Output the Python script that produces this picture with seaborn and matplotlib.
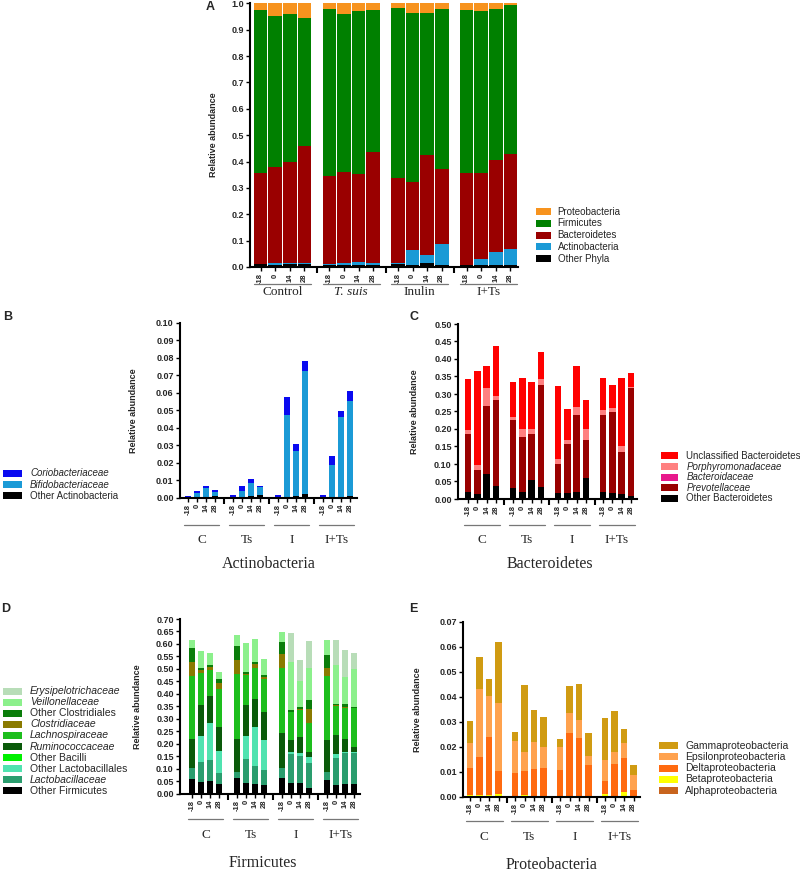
import numpy as np
import pandas as pd
import matplotlib
matplotlib.use("Agg")
import matplotlib.pyplot as plt
import seaborn as sns
from matplotlib.patches import Rectangle

sns.set_theme(style="ticks")
plt.rcParams['font.family'] = ['Liberation Sans', 'DejaVu Sans']
SERIF = ['Liberation Serif', 'DejaVu Serif']

# ---------------- data ----------------
days = ["-18", "0", "14", "28"]
groups_A = ["Control", "T. suis", "Inulin", "I+Ts"]
groups_sub = ["C", "Ts", "I", "I+Ts"]

# Panel A (phyla), bottom -> top
a_other_phyla = [0.012, 0.008, 0.010, 0.010, 0.008, 0.008, 0.008, 0.008, 0.013, 0.007, 0.014, 0.008, 0.008, 0.007, 0.006, 0.006]
a_actinobacteria = [0.001, 0.006, 0.007, 0.006, 0.002, 0.007, 0.011, 0.008, 0.001, 0.058, 0.031, 0.078, 0.001, 0.025, 0.052, 0.062]
a_bacteroidetes = [0.345, 0.366, 0.380, 0.441, 0.335, 0.345, 0.334, 0.419, 0.322, 0.258, 0.381, 0.284, 0.349, 0.326, 0.347, 0.362]
a_firmicutes = [0.617, 0.570, 0.561, 0.487, 0.633, 0.601, 0.618, 0.539, 0.646, 0.639, 0.536, 0.610, 0.617, 0.614, 0.574, 0.562]
a_proteobacteria = [0.025, 0.050, 0.042, 0.056, 0.022, 0.039, 0.029, 0.026, 0.018, 0.038, 0.038, 0.020, 0.025, 0.028, 0.021, 0.008]

# Panel B (Actinobacteria)
b_other = [0.0002, 0.0005, 0.0005, 0.0010, 0.0002, 0.0005, 0.0010, 0.0017, 0.0002, 0.0005, 0.0008, 0.0019, 0.0002, 0.0005, 0.0005, 0.0012]
b_bifido = [0.0002, 0.0022, 0.0050, 0.0022, 0.0003, 0.0033, 0.0074, 0.0042, 0.0003, 0.0466, 0.0258, 0.0709, 0.0003, 0.0185, 0.0455, 0.0539]
b_corio = [0.0006, 0.0009, 0.0011, 0.0010, 0.0008, 0.0027, 0.0021, 0.0009, 0.0008, 0.0107, 0.0040, 0.0052, 0.0008, 0.0051, 0.0038, 0.0061]

# Panel C (Bacteroidetes)
c_other = [0.021, 0.013, 0.072, 0.036, 0.032, 0.021, 0.055, 0.035, 0.017, 0.018, 0.021, 0.059, 0.021, 0.018, 0.015, 0.008]
c_prevo = [0.166, 0.070, 0.195, 0.246, 0.193, 0.157, 0.131, 0.292, 0.083, 0.140, 0.219, 0.110, 0.218, 0.230, 0.119, 0.309]
c_bacteroidaceae = [0.0] * 16
c_porph = [0.010, 0.015, 0.050, 0.013, 0.008, 0.023, 0.015, 0.017, 0.015, 0.011, 0.022, 0.030, 0.014, 0.013, 0.018, 0.003]
c_unclass = [0.146, 0.268, 0.064, 0.143, 0.101, 0.146, 0.132, 0.077, 0.207, 0.088, 0.117, 0.085, 0.094, 0.064, 0.195, 0.041]

# Panel D (Firmicutes)
d_other = [0.059, 0.048, 0.051, 0.039, 0.061, 0.044, 0.039, 0.035, 0.064, 0.044, 0.041, 0.023, 0.053, 0.033, 0.040, 0.040]
d_lacto = [0.043, 0.078, 0.085, 0.044, 0.024, 0.095, 0.072, 0.060, 0.039, 0.115, 0.110, 0.101, 0.034, 0.109, 0.122, 0.123]
d_oth_lactobacillales = [0.000, 0.105, 0.147, 0.087, 0.000, 0.092, 0.157, 0.121, 0.000, 0.008, 0.013, 0.022, 0.000, 0.017, 0.005, 0.004]
d_oth_bacilli = [0.0] * 16
d_rumino = [0.116, 0.124, 0.108, 0.097, 0.135, 0.123, 0.110, 0.111, 0.139, 0.047, 0.064, 0.021, 0.128, 0.075, 0.051, 0.021]
d_lachno = [0.254, 0.130, 0.105, 0.151, 0.260, 0.122, 0.126, 0.131, 0.263, 0.112, 0.107, 0.115, 0.257, 0.117, 0.124, 0.155]
d_clostri = [0.054, 0.011, 0.010, 0.024, 0.054, 0.005, 0.014, 0.010, 0.055, 0.003, 0.004, 0.056, 0.030, 0.003, 0.007, 0.000]
d_oth_clostridiales = [0.058, 0.006, 0.010, 0.016, 0.058, 0.005, 0.010, 0.009, 0.046, 0.006, 0.010, 0.037, 0.054, 0.005, 0.010, 0.003]
d_veill = [0.032, 0.071, 0.046, 0.031, 0.044, 0.116, 0.090, 0.061, 0.041, 0.194, 0.103, 0.130, 0.061, 0.157, 0.110, 0.152]
d_erysi = [0.001, 0.000, 0.000, 0.000, 0.000, 0.000, 0.000, 0.000, 0.000, 0.114, 0.084, 0.107, 0.000, 0.100, 0.107, 0.066]

# Panel E (Proteobacteria)
e_alpha = [0.0] * 16
e_beta = [0.0008, 0.0008, 0.0008, 0.0012, 0.0002, 0.0005, 0.0002, 0.0002, 0.0002, 0.0003, 0.0003, 0.0003, 0.0010, 0.0002, 0.0020, 0.0002]
e_delta = [0.0108, 0.0152, 0.0232, 0.0092, 0.0094, 0.0099, 0.0109, 0.0114, 0.0106, 0.0253, 0.0232, 0.0124, 0.0053, 0.0127, 0.0136, 0.0025]
e_epsilon = [0.0097, 0.0269, 0.0163, 0.0269, 0.0127, 0.0076, 0.0108, 0.0081, 0.0092, 0.0080, 0.0072, 0.0037, 0.0085, 0.0051, 0.0059, 0.0060]
e_gamma = [0.0088, 0.0128, 0.0066, 0.0247, 0.0034, 0.0267, 0.0128, 0.0123, 0.0031, 0.0108, 0.0142, 0.0089, 0.0168, 0.0164, 0.0057, 0.0040]

# ---------------- layout helpers ----------------
W, H = 800, 871
fig = plt.figure(figsize=(W / 100, H / 100), dpi=100)


def add_ax(l, t, r, b):
    return fig.add_axes([l / W, 1 - b / H, (r - l) / W, (b - t) / H])


def stacked(ax, layers, colors, gap, width):
    pos = [g * gap + i for g in range(4) for i in range(4)]
    cum = np.zeros(16)
    tops = []
    for vals in layers:
        cum = cum + np.asarray(vals, dtype=float)
        tops.append(cum.copy())
    for top, col in reversed(list(zip(tops, colors))):
        df = pd.DataFrame({"pos": pos, "top": top})
        sns.barplot(data=df, x="pos", y="top", native_scale=True, color=col,
                    saturation=1, width=width, errorbar=None, linewidth=0,
                    ax=ax)
    return pos


def style(ax, pos, gap, xlim, ylim, yticks, fmt, ylab_x, names, under_px,
          label_px, gfs, title=None, title_px=None, title_x=None, tfs=10.5,
          italic=None):
    ax.set_xlim(*xlim)
    ax.set_ylim(*ylim)
    ax.set_xlabel("")
    ax.set_ylabel("Relative abundance", fontsize=6.5, fontweight="bold")
    ax.yaxis.set_label_coords(ylab_x, 0.5)
    ax.set_yticks(yticks)
    ax.set_yticklabels([fmt.format(v) for v in yticks], fontsize=6.5,
                       fontweight="bold")
    ax.set_xticks(pos)
    ax.set_xticklabels(days * 4, rotation=90, fontsize=5.5, fontweight="bold")
    seps = [g * gap + (3 + gap) / 2 for g in range(3)]
    ax.set_xticks(seps, minor=True)
    ax.tick_params(axis="x", which="major", length=3, width=1, pad=1.5,
                   color="black")
    ax.tick_params(axis="x", which="minor", length=4.5, width=1.5,
                   color="black")
    ax.tick_params(axis="y", length=3, width=1, pad=1.5, color="black")
    sns.despine(ax=ax)
    for s in ("left", "bottom"):
        ax.spines[s].set_linewidth(1.5)
        ax.spines[s].set_color("black")
    axh = ax.get_position().height * H
    trans = ax.get_xaxis_transform()
    for g, name in enumerate(names):
        x0, x1 = g * gap - 0.45, g * gap + 3.45
        ax.plot([x0, x1], [-under_px / axh] * 2, transform=trans,
                color="#777777", lw=0.9, clip_on=False)
        st = "italic" if (italic is not None and g == italic) else "normal"
        ax.text(g * gap + 1.5, -label_px / axh, name, transform=trans,
                ha="center", va="center", fontsize=gfs, family=SERIF,
                style=st)
    if title:
        cx = (pos[0] + pos[-1]) / 2 if title_x is None else title_x
        ax.text(cx, -title_px / axh, title, transform=trans, ha="center",
                va="center", fontsize=tfs, family=SERIF)


def legend(x_sq, y_first, dy, sq_w, sq_h, x_txt, labels, colors, italics, fs=7):
    for k, (lab, col, it) in enumerate(zip(labels, colors, italics)):
        yc = y_first + k * dy
        fig.add_artist(Rectangle((x_sq / W, 1 - (yc + sq_h / 2) / H),
                                 sq_w / W, sq_h / H, transform=fig.transFigure,
                                 facecolor=col, edgecolor="none"))
        fig.text(x_txt / W, 1 - yc / H, lab, ha="left", va="center",
                 fontsize=fs, style="italic" if it else "normal")


def panel_letter(x, y, s):
    fig.text(x / W, 1 - y / H, s, ha="center", va="center", fontsize=9,
             fontweight="bold")


# ---------------- Panel A ----------------
colA = ["#000000", "#1B9AD6", "#9A0000", "#008000", "#F7931E"]
axA = add_ax(250, 3.3, 518, 267)
gA = 4.7
posA = stacked(axA, [a_other_phyla, a_actinobacteria, a_bacteroidetes,
                     a_firmicutes, a_proteobacteria], colA, gA, 0.93)
style(axA, posA, gA, (-0.73, 17.62), (0, 1.0), np.round(np.arange(0, 1.01, 0.1), 2),
      "{:.1f}", -0.12, groups_A, 17, 25, 9.5, italic=1)
legend(536, 211.7, 11.7, 15, 7, 557.5,
       ["Proteobacteria", "Firmicutes", "Bacteroidetes", "Actinobacteria", "Other Phyla"],
       colA[::-1], [False] * 5)
panel_letter(210, 7, "A")

# ---------------- Panel B ----------------
colB = ["#000000", "#1B9AD6", "#0A0AF0"]
axB = add_ax(180, 323, 357, 497.7)
gB = 5
posB = stacked(axB, [b_other, b_bifido, b_corio], colB, gB, 0.7)
style(axB, posB, gB, (-0.9, 18.8), (0, 0.10), np.round(np.arange(0, 0.101, 0.01), 2),
      "{:.2f}", -0.237, groups_sub, 27, 42, 9.5, "Actinobacteria", 66, tfs=11.5)
legend(3, 473.3, 11.2, 19, 7, 30,
       ["Coriobacteriaceae", "Bifidobacteriaceae", "Other Actinobacteria"],
       colB[::-1], [True, True, False])
panel_letter(8, 317, "B")

# ---------------- Panel C ----------------
colC = ["#000000", "#990000", "#E8198C", "#FF8080", "#FF0000"]
axC = add_ax(458, 324, 637, 499)
gC = 4.85
posC = stacked(axC, [c_other, c_prevo, c_bacteroidaceae, c_porph, c_unclass],
               colC, gC, 0.7)
style(axC, posC, gC, (-1.08, 18.2), (0, 0.50), np.round(np.arange(0, 0.501, 0.05), 2),
      "{:.2f}", -0.216, groups_sub, 26, 41, 9.5, "Bacteroidetes", 65, tfs=11.5)
legend(661, 456, 10.6, 17, 7, 686.5,
       ["Unclassified Bacteroidetes", "Porphyromonadaceae", "Bacteroidaceae",
        "Prevotellaceae", "Other Bacteroidetes"],
       colC[::-1], [False, True, True, True, False])
panel_letter(414, 317, "C")

# ---------------- Panel D ----------------
colD = ["#000000", "#2A9D6E", "#50E3B0", "#00F000", "#0A5A0A", "#1DBE1D",
        "#8A7A00", "#0A7D0A", "#8CF08C", "#B8DDB8"]
axD = add_ax(180, 619, 360, 793.7)
gD = 5
posD = stacked(axD, [d_other, d_lacto, d_oth_lactobacillales, d_oth_bacilli,
                     d_rumino, d_lachno, d_clostri, d_oth_clostridiales,
                     d_veill, d_erysi], colD, gD, 0.7)
style(axD, posD, gD, (-1.33, 18.67), (0, 0.70), np.round(np.arange(0, 0.701, 0.05), 2),
      "{:.2f}", -0.213, groups_sub, 25, 41, 9.5, "Firmicutes", 69, title_x=7.9, tfs=11.5)
legend(3, 691, 11.1, 19, 7, 30,
       ["Erysipelotrichaceae", "Veillonellaceae", "Other Clostridiales",
        "Clostridiaceae", "Lachnospiraceae", "Ruminococcaceae", "Other Bacilli",
        "Other Lactobacillales", "Lactobacillaceae", "Other Firmicutes"],
       colD[::-1], [True, True, False, True, True, True, False, False, True, False],
       fs=7.5)
panel_letter(6, 609, "D")

# ---------------- Panel E ----------------
colE = ["#C8641E", "#FFFF00", "#FF6A10", "#FFA24E", "#D09B12"]
axE = add_ax(463, 621.7, 640, 796.7)
gE = 4.74
posE = stacked(axE, [e_alpha, e_beta, e_delta, e_epsilon, e_gamma], colE, gE, 0.7)
style(axE, posE, gE, (-0.74, 17.89), (0, 0.07), np.round(np.arange(0, 0.0701, 0.01), 2),
      "{:.2f}", -0.233, groups_sub, 24, 40, 9.5, "Proteobacteria", 68, tfs=11.5)
legend(659, 745.7, 11.25, 19, 7, 685,
       ["Gammaproteobacteria", "Epsilonproteobacteria", "Deltaproteobacteria",
        "Betaproteobacteria", "Alphaproteobacteria"],
       colE[::-1], [False] * 5, fs=7.5)
panel_letter(413, 609, "E")

fig.savefig("out.png", dpi=100)
